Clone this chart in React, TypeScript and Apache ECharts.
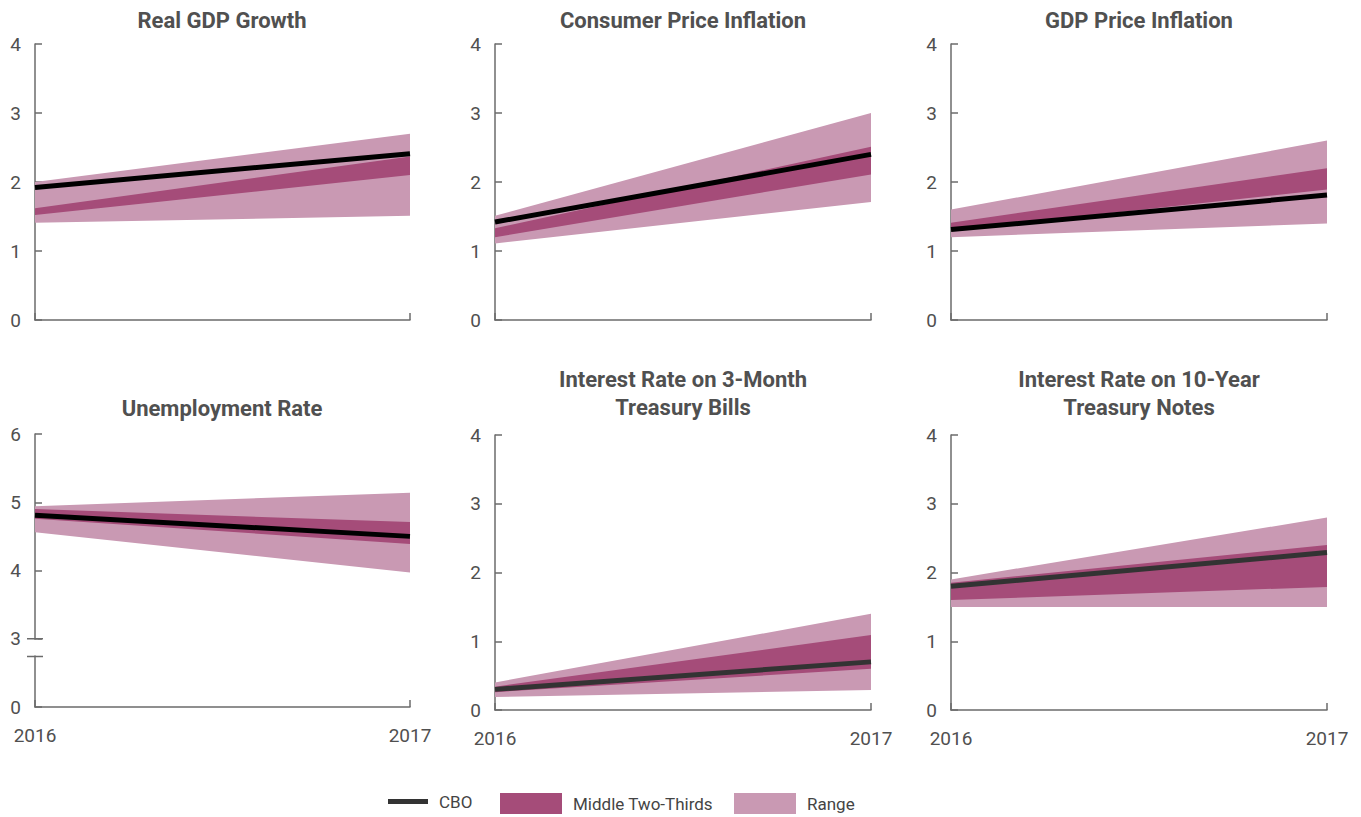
import React, { useEffect, useRef } from 'react';
import * as echarts from 'echarts';

const years = ['2016', '2017'];
const titles = [
  'Real GDP Growth',
  'Consumer Price Inflation',
  'GDP Price Inflation',
  'Unemployment Rate',
  'Interest Rate on 3-Month\nTreasury Bills',
  'Interest Rate on 10-Year\nTreasury Notes',
];

const cboValues = [[1.92, 2.41], [1.42, 2.4], [1.31, 1.81], [4.81, 4.5], [0.3, 0.7], [1.8, 2.29]];
const middleLow = [[1.52, 2.1], [1.2, 2.11], [1.3, 1.89], [4.76, 4.39], [0.26, 0.6], [1.6, 1.79]];
const middleHigh = [[1.62, 2.37], [1.33, 2.51], [1.41, 2.2], [4.9, 4.71], [0.34, 1.09], [1.85, 2.4]];
const rangeLow = [[1.41, 1.51], [1.11, 1.71], [1.2, 1.4], [4.56, 3.97], [0.19, 0.29], [1.5, 1.5]];
const rangeHigh = [[2.0, 2.7], [1.51, 3.0], [1.6, 2.6], [4.94, 5.14], [0.4, 1.4], [1.9, 2.8]];
const yMin = [0, 0, 0, 2, 0, 0];
const yMax = [4, 4, 4, 6, 4, 4];
const breakMarks = [3, 2.74];

const LIGHT = '#C999B3';
const DARK = '#A54C79';
const lineColors = ['#000000', '#000000', '#000000', '#000000', '#333333', '#333333'];
const AXIS = '#6b6b6b';
const TEXT = '#505050';
const FONT = 'Roboto, "Noto Sans", sans-serif';

const grids = [
  { left: 35, top: 44, width: 375, height: 276 },
  { left: 495, top: 44, width: 376, height: 276 },
  { left: 951, top: 44, width: 376, height: 276 },
  { left: 35, top: 434, width: 375, height: 273 },
  { left: 495, top: 435, width: 376, height: 275 },
  { left: 951, top: 435, width: 376, height: 275 },
];
const titlePos = [
  { left: 222, top: 6 },
  { left: 683, top: 6 },
  { left: 1139, top: 6 },
  { left: 222, top: 394 },
  { left: 683, top: 365 },
  { left: 1139, top: 365 },
];

export default function App() {
  const ref = useRef<HTMLDivElement>(null);
  useEffect(() => {
    const chart = echarts.init(ref.current as HTMLDivElement, null, { renderer: 'svg' });
    const series: any[] = [];
    for (let i = 0; i < 6; i++) {
      const common = {
        type: 'line',
        xAxisIndex: i,
        yAxisIndex: i,
        symbol: 'none',
        showSymbol: false,
        silent: true,
      };
      series.push({ ...common, name: 'range-base', stack: 'r' + i, data: rangeLow[i], lineStyle: { width: 0, opacity: 0 } });
      series.push({
        ...common,
        name: 'Range',
        stack: 'r' + i,
        data: rangeHigh[i].map((v, k) => v - rangeLow[i][k]),
        lineStyle: { width: 0, opacity: 0 },
        itemStyle: { color: LIGHT },
        areaStyle: { color: LIGHT, opacity: 1 },
      });
      series.push({ ...common, name: 'middle-base', stack: 'm' + i, data: middleLow[i], lineStyle: { width: 0, opacity: 0 } });
      series.push({
        ...common,
        name: 'Middle Two-Thirds',
        stack: 'm' + i,
        data: middleHigh[i].map((v, k) => v - middleLow[i][k]),
        lineStyle: { width: 0, opacity: 0 },
        itemStyle: { color: DARK },
        areaStyle: { color: DARK, opacity: 1 },
      });
      series.push({
        ...common,
        name: 'CBO',
        data: cboValues[i],
        lineStyle: { width: 5, color: lineColors[i] },
        itemStyle: { color: lineColors[i] },
        z: 5,
      });
    }

    const legendText = { fontSize: 17, color: '#444', fontFamily: FONT, padding: [0, 0, 0, 6] };
    const option: any = {
      animation: false,
      textStyle: { fontFamily: FONT },
      title: titles.map((t, i) => ({
        text: t,
        left: titlePos[i].left,
        top: titlePos[i].top,
        textAlign: 'center',
        padding: 0,
        textStyle: { fontSize: 22, fontWeight: 'bold', color: TEXT, lineHeight: 28, fontFamily: FONT },
      })),
      grid: grids,
      xAxis: grids.map((_, i) => ({
        type: 'category',
        gridIndex: i,
        data: years,
        boundaryGap: false,
        axisLine: { lineStyle: { color: AXIS, width: 1.5 } },
        axisTick: { show: true, inside: true, length: 7, lineStyle: { color: AXIS, width: 1.5 } },
        axisLabel: { show: i >= 3, fontSize: 19, color: TEXT, margin: 19, fontFamily: FONT },
        splitLine: { show: false },
      })),
      yAxis: grids.map((_, i) => ({
        type: 'value',
        gridIndex: i,
        min: yMin[i],
        max: yMax[i],
        interval: 1,
        axisLine: { show: true, lineStyle: { color: AXIS, width: 1.5 } },
        axisTick: { show: true, inside: true, length: 7, lineStyle: { color: AXIS, width: 1.5 } },
        axisLabel: {
          fontSize: 19,
          color: TEXT,
          margin: 14,
          fontFamily: FONT,
          formatter: (v: number) => (i === 3 && v === yMin[i] ? '0' : String(v)),
        },
        splitLine: { show: false },
      })),
      legend: [
        {
          data: [{ name: 'CBO', icon: 'rect', itemStyle: { color: '#333333' } }],
          left: 388, top: 793, padding: 0, itemWidth: 40, itemHeight: 5,
          selectedMode: false, textStyle: legendText,
        },
        {
          data: [{ name: 'Middle Two-Thirds', icon: 'rect', itemStyle: { color: DARK } }],
          left: 500, top: 793, padding: 0, itemWidth: 62, itemHeight: 21,
          selectedMode: false, textStyle: legendText,
        },
        {
          data: [{ name: 'Range', icon: 'rect', itemStyle: { color: LIGHT } }],
          left: 734, top: 793, padding: 0, itemWidth: 62, itemHeight: 21,
          selectedMode: false, textStyle: legendText,
        },
      ],
      series,
    };
    chart.setOption(option);

    const pA = chart.convertToPixel({ gridIndex: 3 } as any, [0, breakMarks[0]]) as number[];
    const pB = chart.convertToPixel({ gridIndex: 3 } as any, [0, breakMarks[1]]) as number[];
    if (pA && pB) {
      const x0 = pA[0];
      chart.setOption({
        graphic: [
          { type: 'rect', z: 100, shape: { x: x0 - 3, y: pA[1] + 1, width: 6, height: pB[1] - pA[1] - 2 }, style: { fill: '#ffffff' } },
          { type: 'line', z: 101, shape: { x1: x0 - 8, y1: pA[1], x2: x0 + 8, y2: pA[1] }, style: { stroke: AXIS, lineWidth: 1.5 } },
          { type: 'line', z: 101, shape: { x1: x0 - 8, y1: pB[1], x2: x0 + 8, y2: pB[1] }, style: { stroke: AXIS, lineWidth: 1.5 } },
        ],
      });
    }
    return () => chart.dispose();
  }, []);
  return <div ref={ref} style={{ position: 'absolute', left: 0, top: 0, width: 1361, height: 817 }} />;
}
